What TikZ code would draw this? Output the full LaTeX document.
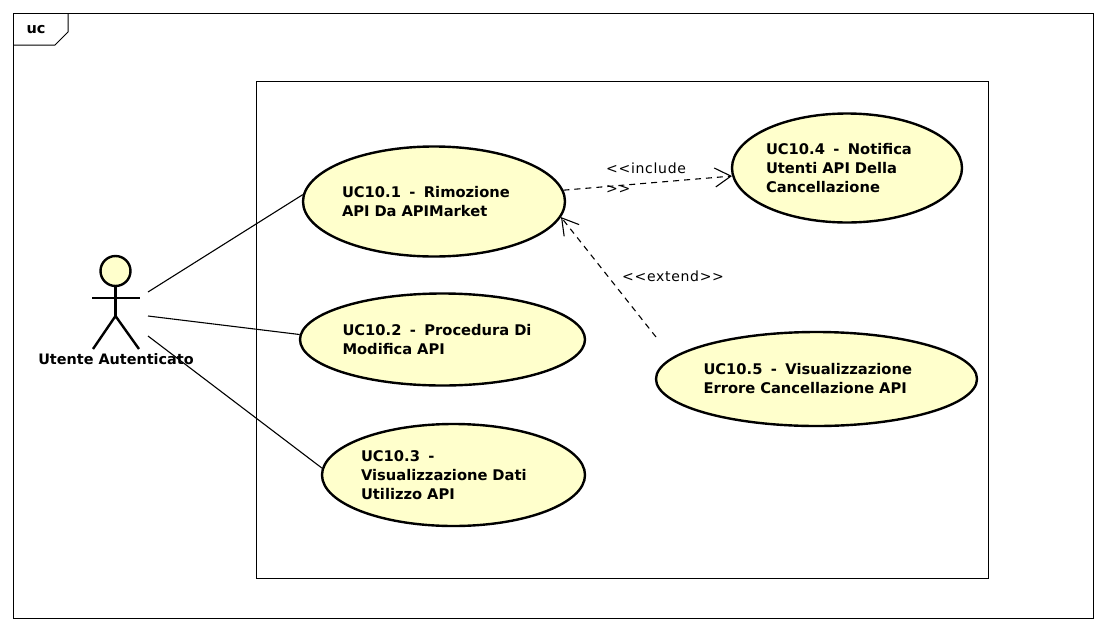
\documentclass[tikz,border=0pt]{standalone}
\usepackage{fontspec}
\setmainfont{DejaVu Sans}
\usepackage{tikz}
\usetikzlibrary{positioning,shapes.geometric,arrows.meta}
\definecolor{ucfill}{HTML}{FFFFCC}
\newcommand{\ucdash}{\kern3.5pt-\kern3.5pt}
\tikzset{
usecase/.style={ellipse, draw=black, line width=2.4pt, fill=ucfill, inner sep=0pt, align=left, font=\bfseries\fontsize{14.7}{19}\selectfont},
assoc/.style={black, line width=1.1pt},
dep/.style={black, line width=1.1pt, dash pattern=on 6pt off 5pt, -{Straight Barb[length=16pt,width=19pt,line width=1.1pt]}},
deplabel/.style={inner sep=0pt, align=left, font=\fontsize{14}{20}\selectfont\addfontfeature{LetterSpace=5}},
limb/.style={black, line width=2.4pt}
}
\begin{document}
\begin{tikzpicture}[x=1pt,y=-1pt]
\useasboundingbox (0,0) rectangle (1105,632);
% frame
\draw[black, line width=1pt](13.5,13.5) rectangle (1093,618);
\draw[black, line width=1pt](13.5,45) -- (55,45) -- (68,32) -- (68,13.5);
\node[inner sep=0pt, font=\bfseries\fontsize{14.5}{16}\selectfont] (frametag) at (36,30) {uc};
\draw[black, line width=0.9pt](256.5,81.5) rectangle (988,578);
% use cases
\node[usecase, text width=184pt, minimum width=262pt, minimum height=110pt] (uca) at (434,201.5) {UC10.1 \ucdash{} Rimozione\\API Da APIMarket};
\node[usecase, text width=200pt, minimum width=285pt, minimum height=92pt] (ucb) at (442.5,339.5) {UC10.2 \ucdash{} Procedura Di\\Modifica API};
\node[usecase, text width=185pt, minimum width=263pt, minimum height=102pt] (ucc) at (453.5,475) {UC10.3 \ucdash{}\\Visualizzazione Dati\\Utilizzo API};
\node[usecase, text width=162pt, minimum width=230pt, minimum height=109pt] (ucd) at (847,168) {UC10.4 \ucdash{} Notifica\\Utenti API Della\\Cancellazione};
\node[usecase, text width=226pt, minimum width=321pt, minimum height=94pt] (uce) at (816.5,379) {UC10.5 \ucdash{} Visualizzazione\\Errore Cancellazione API};
% actor
\node[circle, draw=black, line width=2.4pt, fill=ucfill, minimum size=30pt, inner sep=0pt] (head) at (115.5,271) {};
\coordinate (hip) at (115.5,316);
\coordinate (armleft) at (92,298);
\coordinate (armright) at (140,298);
\coordinate (footleft) at (93,349);
\coordinate (footright) at (139,349);
\draw[limb](head.south) -- (hip);
\draw[limb](armleft) -- (armright);
\draw[limb](footleft) -- (hip) -- (footright);
\node[inner sep=0pt, font=\bfseries\fontsize{14.4}{16}\selectfont] (actor) at (116,359) {Utente Autenticato};
% associations
\coordinate (acta) at (148,292);
\coordinate (actb) at (148,316);
\coordinate (actc) at (148,336);
\draw[assoc](acta) -- (uca.177);
\draw[assoc](actb) -- (ucb.178);
\draw[assoc](actc) -- (ucc.177);
% dependencies
\coordinate (extstart) at (656,337);
\draw[dep](uca.5) -- (ucd.184);
\draw[dep](extstart) -- (uca.-7.5);
\node[deplabel, anchor=north west] (inclabel) at (606,163) {<{}<include\\>{}>};
\node[deplabel, anchor=west] (extlabel) at (622,276) {<{}<extend>{}>};
\end{tikzpicture}
\end{document}
